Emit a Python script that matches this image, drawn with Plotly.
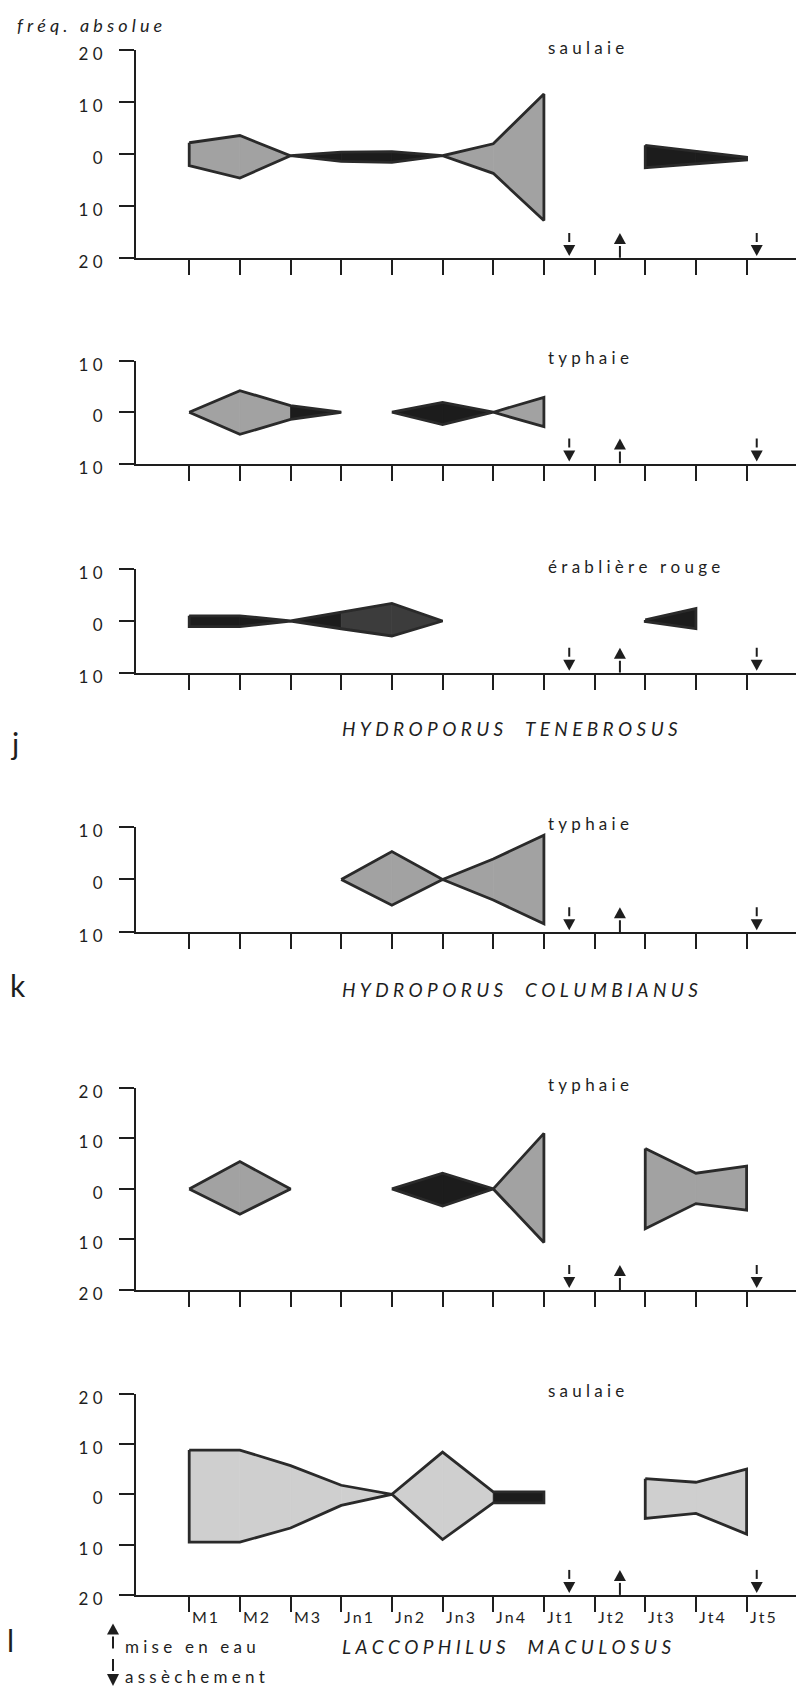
import plotly.graph_objects as go

W, H = 796, 1706
FONT = "Lato"
INK = "#1e1e1e"

# ---------------- data ----------------
periods = ["M1", "M2", "M3", "Jn1", "Jn2", "Jn3", "Jn4", "Jt1", "Jt2", "Jt3", "Jt4", "Jt5"]

# Hydroporus tenebrosus - saulaie (upper / lower edge of the kite, fréq. absolue)
ten_saul_up = [2.2, 3.6, -0.3, 0.4, 0.5, -0.3, 2.0, 11.6, None, 1.7, 0.6, -0.6]
ten_saul_lo = [-2.2, -4.6, -0.3, -1.4, -1.6, -0.3, -3.7, -12.8, None, -2.6, -1.9, -1.1]
# Hydroporus tenebrosus - typhaie
ten_typh_up = [0, 4.2, 1.3, 0, 0, 1.9, 0, 2.9, None, None, None, None]
ten_typh_lo = [0, -4.3, -1.4, 0, 0, -2.4, 0, -2.8, None, None, None, None]
# Hydroporus tenebrosus - érablière rouge
ten_erab_up = [1.0, 1.0, 0, 1.7, 3.4, 0, None, None, None, 0.2, 2.4, None]
ten_erab_lo = [-1.1, -1.1, 0, -1.5, -2.9, 0, None, None, None, -0.1, -1.5, None]
# Hydroporus columbianus - typhaie
col_typh_up = [None, None, None, 0, 5.3, 0, 3.9, 8.4, None, None, None, None]
col_typh_lo = [None, None, None, 0, -4.9, 0, -3.9, -8.4, None, None, None, None]
# Laccophilus maculosus - typhaie
lac_typh_up = [0, 5.4, 0, None, 0, 3.1, 0, 11.0, None, 8.0, 3.1, 4.5]
lac_typh_lo = [0, -5.0, 0, None, 0, -3.4, 0, -10.6, None, -7.9, -2.9, -4.2]
# Laccophilus maculosus - saulaie
lac_saul_up = [8.8, 8.8, 5.7, 1.8, 0, 8.4, 0.5, 0.5, None, 3.1, 2.4, 5.0]
lac_saul_lo = [-9.5, -9.5, -6.7, -2.2, 0, -9.0, -1.7, -1.7, None, -4.8, -3.8, -7.9]

habitats = ["saulaie", "typhaie", "érablière rouge", "typhaie", "typhaie", "saulaie"]
scale_max = [20, 10, 10, 10, 20, 20]
species = ["HYDROPORUS TENEBROSUS", "HYDROPORUS COLUMBIANUS", "LACCOPHILUS MACULOSUS"]
species_letters = ["j", "k", "l"]

# hydrological events (between sampling dates)
event_x = [7.5, 8.5, 11.2]
event_kind = ["down", "up", "down"]

# ---------------- styles ----------------
TONE = {"g": "#a2a2a2", "k": "#1c1c1c", "d": "#3c3c3c", "l": "#cfcfcf"}
tones = [
    ["g", "g", "k", "k", "k", "g", "g", None, None, "k", "k"],
    ["g", "g", "k", None, "k", "k", "g", None, None, None, None],
    ["k", "k", "k", "d", "d", None, None, None, None, "k", None],
    [None, None, None, "g", "g", "g", "g", None, None, None, None],
    ["g", "g", None, None, "k", "k", "g", None, None, "g", "g"],
    ["l", "l", "l", "l", "l", "l", "k", None, None, "l", "l"],
]
panel_px = [(44, 254), (358.3, 462.3), (569.3, 674), (830, 936.7), (1094.3, 1299), (1404, 1607.7)]
X_LEFT_PX = 136
XRANGE = [-1.05, 11.975]
SP = "\u2005"

series = [
    (ten_saul_up, ten_saul_lo), (ten_typh_up, ten_typh_lo), (ten_erab_up, ten_erab_lo),
    (col_typh_up, col_typh_lo), (lac_typh_up, lac_typh_lo), (lac_saul_up, lac_saul_lo),
]


def spaced(s, sep=SP, wordsep="\u2002" + SP):
    return wordsep.join(sep.join(w) for w in s.split(" "))


def py(px):
    return 1 - px / H


fig = go.Figure()
shapes = []
annotations = []

for k, (up, lo) in enumerate(series, start=1):
    xa = "x" if k == 1 else f"x{k}"
    ya = "y" if k == 1 else f"y{k}"
    xs = list(range(len(periods)))
    segs = []
    for i in range(len(up) - 1):
        if up[i] is None or up[i + 1] is None:
            continue
        if up[i] == lo[i] and up[i + 1] == lo[i + 1]:
            continue
        segs.append(i)
    # fills
    for i in segs:
        col = TONE[tones[k - 1][i] or "g"]
        fig.add_trace(go.Scatter(
            x=[xs[i], xs[i + 1], xs[i + 1], xs[i], xs[i]],
            y=[up[i], up[i + 1], lo[i + 1], lo[i], up[i]],
            mode="lines", fill="toself", fillcolor=col,
            line=dict(color=col, width=0.8), xaxis=xa, yaxis=ya,
            hoverinfo="skip"))
    # outlines of contiguous runs
    runs = []
    for i in segs:
        if runs and runs[-1][-1] == i - 1:
            runs[-1].append(i)
        else:
            runs.append([i])
    for r in runs:
        idx = list(range(r[0], r[-1] + 2))
        ox = [xs[j] for j in idx] + [xs[j] for j in reversed(idx)] + [xs[idx[0]]]
        oy = [up[j] for j in idx] + [lo[j] for j in reversed(idx)] + [up[idx[0]]]
        fig.add_trace(go.Scatter(x=ox, y=oy, mode="lines",
                                 line=dict(color="#2a2a2a", width=2.8),
                                 xaxis=xa, yaxis=ya, hoverinfo="skip"))

    top, bot = panel_px[k - 1]
    m = scale_max[k - 1]
    tv = [-20, -10, 0, 10, 20] if m == 20 else [-10, 0, 10]
    tt = [SP.join(str(abs(v))) for v in tv]
    fig.layout[f"yaxis{'' if k == 1 else k}"] = dict(
        domain=[py(bot), py(top)], range=[-m, m], anchor=xa,
        tickvals=tv, ticktext=tt, ticks="outside", ticklen=15, tickwidth=2,
        tickcolor=INK, showline=True, linecolor=INK, linewidth=2,
        showgrid=False, zeroline=False, fixedrange=True,
        tickfont=dict(family=FONT, size=17, color=INK),
        ticklabelstandoff=13, ticklabelshift=4)
    fig.layout[f"xaxis{'' if k == 1 else k}"] = dict(
        domain=[X_LEFT_PX / W, 1.0], range=XRANGE, anchor=ya,
        tickvals=xs, ticktext=periods, showticklabels=False,
        ticks="outside", ticklen=15, tickwidth=2, tickcolor=INK,
        showline=True, linecolor=INK, linewidth=2,
        showgrid=False, zeroline=False, fixedrange=True)

    # habitat label
    annotations.append(dict(
        x=7.05, xref=xa, y=py(top - 3), yref="paper", xanchor="left",
        yanchor="middle", showarrow=False, text=spaced(habitats[k - 1]),
        font=dict(family=FONT, size=17, color=INK)))

    # event arrows
    for ex, kind in zip(event_x, event_kind):
        if kind == "down":
            paths = ["M -6,13 L 6,13 L 0,2 Z", "M -1,16 L 1,16 L 1,25 L -1,25 Z"]
        else:
            paths = ["M -1,0 L 1,0 L 1,12 L -1,12 Z", "M -6,14 L 6,14 L 0,25 Z"]
        for p in paths:
            shapes.append(dict(type="path", path=p, xref=xa, yref=ya,
                               xsizemode="pixel", ysizemode="pixel",
                               xanchor=ex, yanchor=-m,
                               fillcolor=INK, line=dict(width=0)))

# period labels under last panel
for i, lab in enumerate(periods):
    annotations.append(dict(
        x=i, xref="x6", y=py(1630), yref="paper", xanchor="left", xshift=1,
        yanchor="middle", showarrow=False, text=spaced(lab, "\u2009"),
        font=dict(family=FONT, size=16, color=INK)))

# species names and panel letters
species_y = [730, 995, 1660]
letter_y = [745, 990, 1653]
letter_x = [8, 8, 5]
for name, letter, sy, ly, lx in zip(species, species_letters, species_y, letter_y, letter_x):
    annotations.append(dict(
        x=340 / W, xref="paper", y=py(sy), yref="paper", xanchor="left",
        yanchor="middle", showarrow=False,
        text="<i>" + spaced(name, SP, "\u2002\u2002" + SP) + "</i>",
        font=dict(family=FONT, size=19, color=INK)))
    annotations.append(dict(
        x=lx / W, xref="paper", y=py(ly), yref="paper", xanchor="left",
        yanchor="middle", showarrow=False, text=letter,
        font=dict(family=FONT, size=30, color=INK)))

# y axis title
annotations.append(dict(
    x=15 / W, xref="paper", y=py(18), yref="paper", xanchor="left",
    yanchor="middle", showarrow=False,
    text="<i>" + spaced("fréq. absolue") + "</i>",
    font=dict(family=FONT, size=18, color=INK)))

# legend
annotations.append(dict(
    x=123 / W, xref="paper", y=py(1660), yref="paper", xanchor="left",
    yanchor="middle", showarrow=False, text=spaced("mise en eau"),
    font=dict(family=FONT, size=17, color=INK)))
annotations.append(dict(
    x=123 / W, xref="paper", y=py(1690), yref="paper", xanchor="left",
    yanchor="middle", showarrow=False, text=spaced("assèchement"),
    font=dict(family=FONT, size=17, color=INK)))
for p in ["M -1,0 L 1,0 L 1,12 L -1,12 Z", "M -6,14 L 6,14 L 0,25 Z"]:
    shapes.append(dict(type="path", path=p, xref="paper", yref="paper",
                       xsizemode="pixel", ysizemode="pixel",
                       xanchor=113 / W, yanchor=py(1662),
                       fillcolor=INK, line=dict(width=0)))
for p in ["M -6,12 L 6,12 L 0,0 Z", "M -1,15 L 1,15 L 1,27 L -1,27 Z"]:
    shapes.append(dict(type="path", path=p, xref="paper", yref="paper",
                       xsizemode="pixel", ysizemode="pixel",
                       xanchor=113 / W, yanchor=py(1700),
                       fillcolor=INK, line=dict(width=0)))

fig.update_layout(
    width=W, height=H, margin=dict(l=0, r=0, t=0, b=0),
    paper_bgcolor="white", plot_bgcolor="white", showlegend=False,
    shapes=shapes, annotations=annotations,
)

fig.write_html("out.html", config={"displayModeBar": False},
               post_script="document.body.style.margin='0px';")
